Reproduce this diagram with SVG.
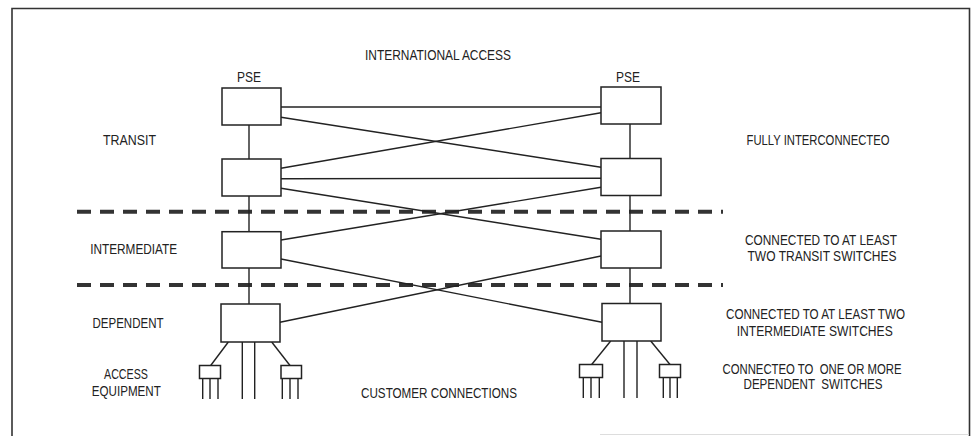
<svg xmlns="http://www.w3.org/2000/svg" width="974" height="436" viewBox="0 0 974 436">
  <style>
    .frame { fill: none; stroke: #333; stroke-width: 1.6; }
    .box { fill: #fff; stroke: #222; stroke-width: 1.5; }
    .line { fill: none; stroke: #222; stroke-width: 1.4; }
    .level { fill: none; stroke: #333; stroke-width: 4; stroke-dasharray: 14 9; }
    text { font-family: "Liberation Sans Narrow", "Liberation Sans", "DejaVu Sans Condensed", sans-serif; font-size: 15px; fill: #222; text-anchor: middle; }
  </style>

  <rect width="974" height="436" fill="#fff"/>

  <!-- page border -->
  <path class="frame" d="M12,436 V8.5 H969.5 V436"/>
  <line x1="600" y1="434.5" x2="969" y2="434.5" stroke="#ddd" stroke-width="1.2"/>

  <!-- hierarchy level separators -->
  <g id="levels">
    <line class="level" x1="77" y1="211.7" x2="723" y2="211.7"/>
    <line class="level" x1="77" y1="285" x2="723" y2="285"/>
  </g>

  <!-- connectors -->
  <g id="connectors">
    <!-- transit mesh -->
    <line class="line" x1="281" y1="107" x2="601" y2="107"/>
    <line class="line" x1="281" y1="117.3" x2="601" y2="167.3"/>
    <line class="line" x1="601" y1="112.7" x2="281" y2="168.3"/>
    <line class="line" x1="281" y1="178.7" x2="601" y2="178.3"/>
    <!-- transit to intermediate -->
    <line class="line" x1="281" y1="188.3" x2="601" y2="239.3"/>
    <line class="line" x1="601" y1="187.3" x2="281" y2="240"/>
    <!-- intermediate to dependent -->
    <line class="line" x1="281" y1="259" x2="602" y2="322.3"/>
    <line class="line" x1="601" y1="256" x2="280" y2="322.3"/>
    <!-- vertical trunks -->
    <line class="line" x1="249" y1="125" x2="249" y2="159"/>
    <line class="line" x1="249" y1="196" x2="249" y2="231.7"/>
    <line class="line" x1="249" y1="268" x2="249" y2="304"/>
    <line class="line" x1="630" y1="124" x2="630" y2="158.5"/>
    <line class="line" x1="630" y1="195.5" x2="630" y2="231"/>
    <line class="line" x1="630" y1="268" x2="630" y2="303.5"/>
    <!-- left dependent switch: customer lines and access equipment -->
    <line class="line" x1="242.3" y1="342" x2="242.3" y2="399"/>
    <line class="line" x1="254.7" y1="342" x2="254.7" y2="399"/>
    <line class="line" x1="228.3" y1="342" x2="210.7" y2="365.5"/>
    <line class="line" x1="271.7" y1="342" x2="290" y2="365.5"/>
    <path class="line" d="M202.7,378.5 V399 M210,378.5 V399 M218,378.5 V399 M282.3,378.5 V399 M290,378.5 V399 M298,378.5 V399"/>
    <!-- right dependent switch: customer lines and access equipment -->
    <line class="line" x1="624" y1="341" x2="624" y2="398"/>
    <line class="line" x1="637" y1="341" x2="637" y2="398"/>
    <line class="line" x1="610.7" y1="341" x2="591.7" y2="364.5"/>
    <line class="line" x1="650.7" y1="341" x2="670" y2="364.5"/>
    <path class="line" d="M583.3,377.5 V398 M591,377.5 V398 M599.3,377.5 V398 M663.3,377.5 V398 M670,377.5 V398 M677.3,377.5 V398"/>
  </g>

  <!-- switches -->
  <g id="transit-left-pse"><rect class="box" x="222" y="88" width="59" height="37"/></g>
  <g id="transit-right-pse"><rect class="box" x="601" y="87" width="60" height="37"/></g>
  <g id="transit-left"><rect class="box" x="222" y="159" width="59" height="37"/></g>
  <g id="transit-right"><rect class="box" x="601" y="158.5" width="60" height="37"/></g>
  <g id="intermediate-left"><rect class="box" x="222" y="231.7" width="59" height="36.3"/></g>
  <g id="intermediate-right"><rect class="box" x="601" y="231" width="60" height="37"/></g>
  <g id="dependent-left"><rect class="box" x="221" y="304" width="59" height="38"/></g>
  <g id="dependent-right"><rect class="box" x="602" y="303.5" width="59" height="37.5"/></g>
  <g id="access-left-a"><rect class="box" x="199.5" y="365.5" width="21" height="13"/></g>
  <g id="access-left-b"><rect class="box" x="281" y="365.5" width="20.5" height="13"/></g>
  <g id="access-right-a"><rect class="box" x="579.5" y="364.5" width="23" height="13"/></g>
  <g id="access-right-b"><rect class="box" x="659.5" y="364.5" width="21" height="13"/></g>

  <!-- labels -->
  <g id="labels">
    <text x="438" y="60" textLength="146" lengthAdjust="spacingAndGlyphs">INTERNATIONAL ACCESS</text>
    <text x="249" y="81.5" textLength="24" lengthAdjust="spacingAndGlyphs">PSE</text>
    <text x="628" y="81.5" textLength="24" lengthAdjust="spacingAndGlyphs">PSE</text>
    <text x="129.5" y="145" textLength="53" lengthAdjust="spacingAndGlyphs">TRANSIT</text>
    <text x="818" y="145" textLength="143" lengthAdjust="spacingAndGlyphs">FULLY INTERCONNECTEO</text>
    <text x="133.7" y="254" textLength="87" lengthAdjust="spacingAndGlyphs">INTERMEDIATE</text>
    <text x="128" y="328" textLength="71" lengthAdjust="spacingAndGlyphs">DEPENDENT</text>
    <text x="126" y="379" textLength="44" lengthAdjust="spacingAndGlyphs">ACCESS</text>
    <text x="126.3" y="396" textLength="69" lengthAdjust="spacingAndGlyphs">EQUIPMENT</text>
    <text x="439" y="398" textLength="156" lengthAdjust="spacingAndGlyphs">CUSTOMER CONNECTIONS</text>
    <text x="821" y="245" textLength="152" lengthAdjust="spacingAndGlyphs">CONNECTED TO AT LEAST</text>
    <text x="822" y="260.7" textLength="149" lengthAdjust="spacingAndGlyphs">TWO TRANSIT SWITCHES</text>
    <text x="815.5" y="318.7" textLength="179" lengthAdjust="spacingAndGlyphs">CONNECTED TO AT LEAST TWO</text>
    <text x="814.7" y="335.7" textLength="156" lengthAdjust="spacingAndGlyphs">INTERMEDIATE SWITCHES</text>
    <text x="812" y="373.7" textLength="179" lengthAdjust="spacingAndGlyphs" xml:space="preserve">CONNECTEO TO  ONE OR MORE</text>
    <text x="813" y="389" textLength="139" lengthAdjust="spacingAndGlyphs" xml:space="preserve">DEPENDENT  SWITCHES</text>
  </g>
</svg>
